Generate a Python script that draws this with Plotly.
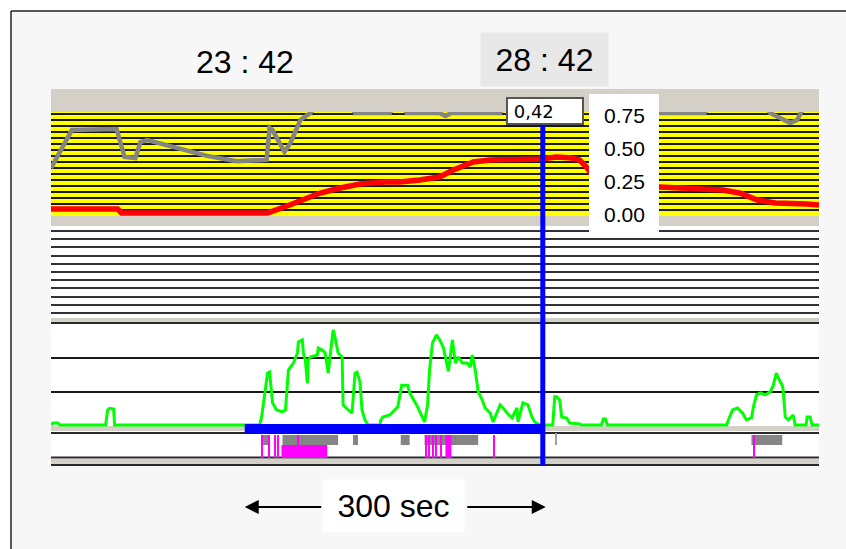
import plotly.graph_objects as go

# ---------------- data (time in seconds, 23:42 = 1422 s) ----------------
red_t = [1227, 1294, 1298, 1445, 1462, 1478, 1498, 1518, 1538, 1563, 1578, 1598, 1618, 1632,
         1652, 1669, 1719, 1736, 1751, 1759, 1766, 1780, 1839, 1903, 1920, 1938, 1956, 1988, 2000]
red_v = [0.038, 0.038, 0.008, 0.008, 0.053, 0.098, 0.159, 0.197, 0.227, 0.242, 0.242, 0.258, 0.28, 0.333,
         0.394, 0.409, 0.417, 0.432, 0.424, 0.409, 0.356, 0.212, 0.205, 0.182, 0.159, 0.106, 0.083, 0.076, 0.068]

gray_t = [1227, 1248, 1293, 1296, 1301, 1312, 1317, 1324, 1350, 1384, 1414, 1444, 1447, 1450, 1462, 1468,
          1478, 1488, 1496, 1528, 1533, 1568, 1573, 1580, 1585, 1618, 1624, 1630, 1679, 1685, 1835, 1840,
          1885, 1890, 1946, 1951, 1971, 1978, 1984, 2000]
gray_v = [0.348, 0.636, 0.644, 0.56, 0.432, 0.424, 0.545, 0.56, 0.508, 0.44, 0.40, 0.41, 0.652, 0.636, 0.47, 0.538,
          0.712, 0.765, 0.83, 0.83, 0.765, 0.765, 0.83, 0.83, 0.765, 0.765, 0.742, 0.765, 0.765, 0.83, 0.83, 0.765,
          0.765, 0.83, 0.83, 0.765, 0.689, 0.712, 0.80, 0.83]

green_t = [1227, 1229, 1234, 1236, 1282, 1284, 1286, 1290, 1291, 1437, 1439, 1444, 1445, 1447, 1449, 1450,
           1454, 1460, 1463, 1465, 1466, 1468, 1471, 1475, 1476, 1480, 1481, 1483, 1485, 1486, 1488, 1495,
           1496, 1500, 1503, 1506, 1508, 1511, 1513, 1516, 1520, 1521, 1526, 1530, 1533, 1535, 1538, 1540,
           1543, 1546, 1558, 1559, 1561, 1568, 1571, 1576, 1580, 1586, 1588, 1595, 1603, 1606, 1608, 1611,
           1615, 1619, 1622, 1627, 1631, 1634, 1637, 1641, 1646, 1649, 1651, 1654, 1657, 1661, 1664, 1669,
           1672, 1676, 1679, 1682, 1686, 1691, 1696, 1697, 1702, 1707, 1711, 1714, 1719, 1732, 1734, 1736,
           1739, 1741, 1746, 1749, 1759, 1761, 1781, 1783, 1785, 1787, 1907, 1910, 1913, 1918, 1923, 1927,
           1932, 1934, 1937, 1941, 1946, 1951, 1954, 1957, 1959, 1963, 1964, 1966, 1969, 1974, 1976, 1987,
           1988, 1991, 1993, 2000]
green_v = [0, 0.06, 0.06, 0, 0, 0.45, 0.5, 0.48, 0, 0, 0.24, 1.28, 1.55, 1.58, 1.04, 0.66,
           0.45, 0.39, 0.45, 1.3, 1.64, 1.73, 1.85, 2.15, 2.48, 2.54, 2.15, 1.94, 1.25, 1.94, 2.03, 2.09,
           2.3, 2.24, 2.15, 1.55, 2.03, 2.84, 2.6, 2.15, 2.03, 0.6, 0.45, 0.36, 1.55, 1.58, 1.28, 0.45,
           0.15, 0.0, 0, 0.15, 0.24, 0.3, 0.39, 0.54, 1.19, 1.19, 0.96, 0.6, 0.09, 0.6, 1.64, 2.45,
           2.69, 2.5, 2.3, 1.6, 2.54, 1.85, 2.03, 1.85, 1.85, 1.73, 2.09, 1.64, 0.99, 0.75, 0.51, 0.36,
           0.09, 0.36, 0.6, 0.51, 0.36, 0.21, 0.51, 0.09, 0.66, 0.6, 0.24, 0.09, 0.0, 0, 0.84, 0.84,
           0.75, 0.24, 0.21, 0.06, 0.03, 0, 0, 0.18, 0.18, 0, 0, 0.24, 0.45, 0.51, 0.36, 0.15,
           0.21, 0.54, 0.9, 0.96, 0.9, 0.99, 1.19, 1.55, 1.4, 1.19, 1.04, 0.24, 0.15, 0.3, 0, 0,
           0.24, 0.24, 0, 0]

# event marks: gray blocks (start, end) and pink marks (start, end, top)
gray_ev_start = [1440, 1460, 1531, 1579, 1603, 1932]
gray_ev_end = [1447, 1516, 1536, 1588, 1657, 1963]
gray_thin_t = [1735.5]
pink_start = [1439, 1446, 1452, 1455, 1459, 1475, 1604, 1607, 1611, 1614, 1619, 1624, 1672, 1934]
pink_end = [1440, 1447, 1453, 1456, 1505, 1476, 1605, 1608, 1612, 1615, 1620.5, 1630, 1673, 1935]
pink_top = [0.92, 0.92, 0.92, 0.92, 0.52, 0.92, 0.92, 0.92, 0.92, 0.92, 0.92, 0.92, 0.92, 0.92]

yellow_ticks = [0.0, 0.25, 0.50, 0.75]
cursor_t = 1722
start_t = 1422
cursor_value = "0,42"
time_labels = ["23 : 42", "28 : 42"]
span_label = "300 sec"

# ---------------- helpers for layout placement (pixels -> paper) ----------------
W, H = 846, 549
def px(p):
    return p / W
def py(p):
    return 1 - p / H

FONT = "Liberation Sans, Arial, sans-serif"
fig = go.Figure()

fig.add_trace(go.Scatter(x=gray_t, y=gray_v, mode="lines", line=dict(color="#848484", width=4.5),
                         xaxis="x", yaxis="y", hoverinfo="skip"))
fig.add_trace(go.Scatter(x=red_t, y=red_v, mode="lines", line=dict(color="#ff0000", width=5.5),
                         xaxis="x", yaxis="y", hoverinfo="skip"))
fig.add_trace(go.Scatter(x=[1227, 2000], y=[50, 50], mode="lines", line=dict(width=0),
                         xaxis="x", yaxis="y2", hoverinfo="skip"))
fig.add_trace(go.Scatter(x=green_t, y=green_v, mode="lines", line=dict(color="#00ff00", width=3),
                         xaxis="x", yaxis="y3", hoverinfo="skip"))
fig.add_trace(go.Bar(x=[(a + b) / 2 for a, b in zip(gray_ev_start, gray_ev_end)],
                     width=[b - a for a, b in zip(gray_ev_start, gray_ev_end)],
                     base=[0.52] * len(gray_ev_start), y=[0.40] * len(gray_ev_start),
                     marker=dict(color="#858585", line=dict(width=0)), xaxis="x", yaxis="y4"))
fig.add_trace(go.Bar(x=gray_thin_t, width=[1], base=[0.52], y=[0.48],
                     marker=dict(color="#a0a0a0", line=dict(width=0)), xaxis="x", yaxis="y4"))
fig.add_trace(go.Bar(x=[(a + b) / 2 for a, b in zip(pink_start, pink_end)],
                     width=[b - a for a, b in zip(pink_start, pink_end)],
                     base=[0] * len(pink_start), y=pink_top,
                     marker=dict(color="#ff00ff", line=dict(width=0)), xaxis="x", yaxis="y4"))

shapes = []
# outer background & frame
shapes.append(dict(type="rect", xref="paper", yref="paper", x0=px(11), x1=1, y0=0, y1=py(11),
                   fillcolor="#f7f7f7", line=dict(width=0), layer="below"))
shapes.append(dict(type="line", xref="paper", yref="paper", x0=px(11), x1=px(11), y0=0, y1=py(11),
                   line=dict(color="#222", width=1.5), layer="below"))
shapes.append(dict(type="line", xref="paper", yref="paper", x0=px(11), x1=1, y0=py(11), y1=py(11),
                   line=dict(color="#222", width=1.5), layer="below"))
# chart panel
shapes.append(dict(type="rect", xref="paper", yref="paper", x0=px(51), x1=px(819), y0=py(466), y1=py(89),
                   fillcolor="white", line=dict(width=0), layer="below"))
for a, b in [(89, 112), (216, 226), (318, 322), (426, 431), (459, 464)]:
    shapes.append(dict(type="rect", xref="paper", yref="paper", x0=px(51), x1=px(819), y0=py(b), y1=py(a),
                       fillcolor="#d4d0c8", line=dict(width=0), layer="below"))
for yy in [323, 433, 457.5, 465]:
    shapes.append(dict(type="line", xref="paper", yref="paper", x0=px(51), x1=px(819), y0=py(yy), y1=py(yy),
                       line=dict(color="#2a2a2a", width=2), layer="below"))
shapes.append(dict(type="rect", xref="x domain", yref="y domain", x0=0, x1=1, y0=0, y1=1,
                   fillcolor="#ffff00", line=dict(width=0), layer="below"))
# cursor markers
shapes.append(dict(type="rect", xref="x", yref="paper", x0=start_t, x1=cursor_t, y0=py(434), y1=py(424),
                   fillcolor="#0000ff", line=dict(width=0), layer="above"))
shapes.append(dict(type="line", xref="x", yref="paper", x0=cursor_t, x1=cursor_t, y0=py(466), y1=py(126),
                   line=dict(color="#0000ff", width=5), layer="above"))
# tick label panel
shapes.append(dict(type="rect", xref="paper", yref="paper", x0=px(589), x1=px(659), y0=py(232), y1=py(94),
                   fillcolor="white", line=dict(width=0), layer="above"))
fig.update_layout(shapes=shapes)

C = dict(xanchor="center", yanchor="middle", showarrow=False)
ann = []
for v in yellow_ticks:
    ann.append(dict(x=px(624), xref="paper", y=v, yref="y", text=f"{v:.2f}",
                    font=dict(family=FONT, size=21, color="black"), **C))
ann.append(dict(x=start_t, xref="x", y=py(62), yref="paper", text=time_labels[0],
                font=dict(family=FONT, size=32, color="black"), **C))
ann.append(dict(x=cursor_t + 2, xref="x", y=py(59.5), yref="paper", text=time_labels[1],
                bgcolor="#e8e8e8", width=127, height=53, borderpad=0,
                font=dict(family=FONT, size=32, color="black"), **C))
ann.append(dict(x=cursor_t + 2, xref="x", y=py(110.5), yref="paper", text="&nbsp;" + cursor_value,
                bgcolor="white", bordercolor="#555", borderwidth=2, borderpad=0, width=74, height=24,
                align="left", font=dict(family="DejaVu Sans, sans-serif", size=18, color="black"), **C))
ann.append(dict(x=(start_t + cursor_t) / 2, xref="x", y=py(506), yref="paper", text=span_label,
                bgcolor="white", width=141, height=52, borderpad=0,
                font=dict(family=FONT, size=32, color="black"), **C))
ann.append(dict(x=start_t, xref="x", y=py(507), yref="paper", text="", showarrow=True, ax=78, ay=0,
                arrowhead=2, arrowsize=1.4, arrowwidth=2, arrowcolor="black"))
ann.append(dict(x=cursor_t + 3, xref="x", y=py(507), yref="paper", text="", showarrow=True, ax=-80, ay=0,
                arrowhead=2, arrowsize=1.4, arrowwidth=2, arrowcolor="black"))
fig.update_layout(annotations=ann)

noax = dict(showticklabels=False, ticks="", zeroline=False, showline=False)
fig.update_layout(
    width=W, height=H, autosize=False, margin=dict(l=0, r=0, t=0, b=0),
    paper_bgcolor="white", plot_bgcolor="white", showlegend=False, barmode="overlay",
    xaxis=dict(domain=[px(51), px(819)], range=[1227, 2000], showgrid=False, visible=False, anchor="y4"),
    yaxis=dict(domain=[py(216), py(112)], range=[-2 / 132, 102 / 132], showgrid=True,
               tick0=4 / 132, dtick=6 / 132, gridcolor="#1a1a1a", gridwidth=1.5, anchor="x", **noax),
    yaxis2=dict(domain=[py(318), py(226)], range=[0, 92], showgrid=True, tick0=5, dtick=8.2,
                gridcolor="#333", gridwidth=2, anchor="x", **noax),
    yaxis3=dict(domain=[py(433), py(324)], range=[-8 / 33.5, 101 / 33.5], showgrid=True,
                tickvals=[1, 2], gridcolor="#1a1a1a", gridwidth=1.5, anchor="x", **noax),
    yaxis4=dict(domain=[py(458), py(433)], range=[0, 1], showgrid=False, anchor="x", **noax),
)

fig.write_html("out.html")
